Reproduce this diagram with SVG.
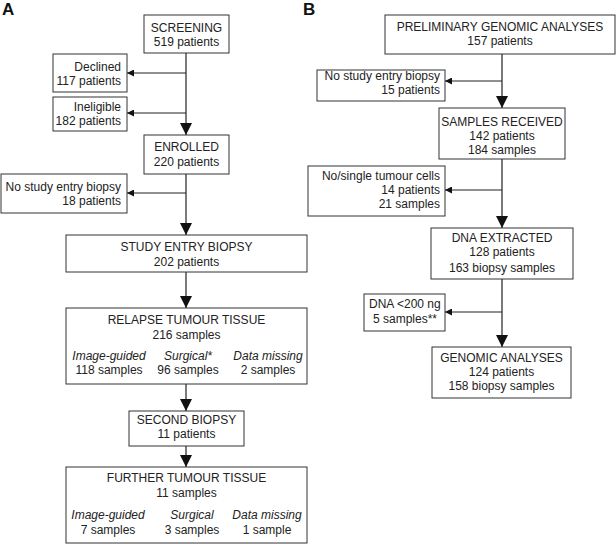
<svg xmlns="http://www.w3.org/2000/svg" width="616" height="544" viewBox="0 0 616 544">
<style>
text{font-family:"Liberation Sans",Arial,sans-serif;font-size:12px;fill:#222}
.c{text-anchor:middle}
.r{text-anchor:end}
.i{font-style:italic}
.lab{font-size:17px;font-weight:bold;fill:#111}
rect{fill:#fff;stroke:#333;stroke-width:1}
.ln{stroke:#222;stroke-width:1.2;fill:none}
</style>
<defs>
<marker id="big" markerUnits="userSpaceOnUse" markerWidth="12" markerHeight="12" viewBox="0 0 10 10" refX="10" refY="5" orient="auto">
<path d="M0,0 L10,5 L0,10 Z" fill="#111"/>
</marker>
<marker id="small" markerUnits="userSpaceOnUse" markerWidth="7" markerHeight="7" viewBox="0 0 10 10" refX="10" refY="5" orient="auto">
<path d="M0,0 L10,5 L0,10 Z" fill="#111"/>
</marker>
</defs>
<rect x="0" y="0" width="616" height="544" style="fill:#fff;stroke:none"/>
<text class="lab" x="2" y="15">A</text>
<text class="lab" x="303" y="15">B</text>

<g id="connectors">
<line class="ln" x1="186" y1="53" x2="186" y2="135" marker-end="url(#big)"/>
<line class="ln" x1="186" y1="73" x2="127" y2="73" marker-end="url(#small)"/>
<line class="ln" x1="186" y1="113" x2="127" y2="113" marker-end="url(#small)"/>
<line class="ln" x1="186" y1="174" x2="186" y2="235" marker-end="url(#big)"/>
<line class="ln" x1="186" y1="193" x2="127" y2="193" marker-end="url(#small)"/>
<line class="ln" x1="186" y1="272" x2="186" y2="308" marker-end="url(#big)"/>
<line class="ln" x1="186" y1="384" x2="186" y2="411" marker-end="url(#big)"/>
<line class="ln" x1="186" y1="446" x2="186" y2="467" marker-end="url(#big)"/>
<line class="ln" x1="502" y1="54" x2="502" y2="108" marker-end="url(#big)"/>
<line class="ln" x1="502" y1="81" x2="445" y2="81" marker-end="url(#small)"/>
<line class="ln" x1="502" y1="159" x2="502" y2="228" marker-end="url(#big)"/>
<line class="ln" x1="502" y1="190" x2="445" y2="190" marker-end="url(#small)"/>
<line class="ln" x1="502" y1="279" x2="502" y2="347" marker-end="url(#big)"/>
<line class="ln" x1="502" y1="312" x2="445" y2="312" marker-end="url(#small)"/>
</g>

<g id="screening">
<rect x="144" y="15" width="85" height="38"/>
<text class="c" x="186.5" y="32">SCREENING</text>
<text class="c" x="186.5" y="46">519 patients</text>
</g>
<g id="declined">
<rect x="53" y="54" width="74" height="38"/>
<text class="r" x="121" y="71">Declined</text>
<text class="r" x="121" y="85">117 patients</text>
</g>
<g id="ineligible">
<rect x="53" y="97" width="74" height="34"/>
<text class="r" x="121" y="111">Ineligible</text>
<text class="r" x="121" y="125">182 patients</text>
</g>
<g id="enrolled">
<rect x="144" y="135" width="85" height="39"/>
<text class="c" x="186.5" y="151">ENROLLED</text>
<text class="c" x="186.5" y="166">220 patients</text>
</g>
<g id="no-biopsy-a">
<rect x="1" y="174" width="126" height="39"/>
<text class="r" x="121" y="191">No study entry biopsy</text>
<text class="r" x="121" y="205">18 patients</text>
</g>
<g id="study-entry-biopsy">
<rect x="66" y="235" width="241" height="37"/>
<text class="c" x="186.5" y="251">STUDY ENTRY BIOPSY</text>
<text class="c" x="186.5" y="266">202 patients</text>
</g>
<g id="relapse-tissue">
<rect x="66" y="308" width="241" height="76"/>
<text class="c" x="186.5" y="324">RELAPSE TUMOUR TISSUE</text>
<text class="c" x="186.5" y="339">216 samples</text>
<text class="c i" x="109" y="360">Image-guided</text>
<text class="c" x="109" y="374">118 samples</text>
<text class="c i" x="188" y="360">Surgical*</text>
<text class="c" x="188" y="374">96 samples</text>
<text class="c i" x="268" y="360">Data missing</text>
<text class="c" x="268" y="374">2 samples</text>
</g>
<g id="second-biopsy">
<rect x="129" y="411" width="115" height="35"/>
<text class="c" x="186.5" y="424">SECOND BIOPSY</text>
<text class="c" x="186.5" y="438">11 patients</text>
</g>
<g id="further-tissue">
<rect x="66" y="467" width="241" height="76"/>
<text class="c" x="186.5" y="482">FURTHER TUMOUR TISSUE</text>
<text class="c" x="186.5" y="497">11 samples</text>
<text class="c i" x="108" y="519">Image-guided</text>
<text class="c" x="108" y="534">7 samples</text>
<text class="c i" x="192" y="519">Surgical</text>
<text class="c" x="192" y="534">3 samples</text>
<text class="c i" x="267" y="519">Data missing</text>
<text class="c" x="267" y="534">1 sample</text>
</g>

<g id="preliminary">
<rect x="385" y="15" width="230" height="39"/>
<text class="c" x="500" y="31">PRELIMINARY GENOMIC ANALYSES</text>
<text class="c" x="500" y="45">157 patients</text>
</g>
<g id="no-biopsy-b">
<rect x="317" y="70" width="128" height="31"/>
<text class="r" x="440" y="80">No study entry biopsy</text>
<text class="r" x="440" y="94">15 patients</text>
</g>
<g id="samples-received">
<rect x="439" y="108" width="126" height="51"/>
<text class="c" x="502" y="126">SAMPLES RECEIVED</text>
<text class="c" x="502" y="140">142 patients</text>
<text class="c" x="502" y="154">184 samples</text>
</g>
<g id="no-tumour-cells">
<rect x="308" y="166" width="137" height="50"/>
<text class="r" x="440" y="180">No/single tumour cells</text>
<text class="r" x="440" y="194">14 patients</text>
<text class="r" x="440" y="208">21 samples</text>
</g>
<g id="dna-extracted">
<rect x="431" y="228" width="142" height="51"/>
<text class="c" x="502" y="242">DNA EXTRACTED</text>
<text class="c" x="502" y="256">128 patients</text>
<text class="c" x="502" y="272">163 biopsy samples</text>
</g>
<g id="dna-low">
<rect x="364" y="294" width="81" height="37"/>
<text x="369" y="308">DNA &lt;200 ng</text>
<text x="373" y="323">5 samples**</text>
</g>
<g id="genomic-analyses">
<rect x="432" y="347" width="139" height="51"/>
<text class="c" x="501.5" y="362">GENOMIC ANALYSES</text>
<text class="c" x="501.5" y="376">124 patients</text>
<text class="c" x="501.5" y="390">158 biopsy samples</text>
</g>
</svg>
